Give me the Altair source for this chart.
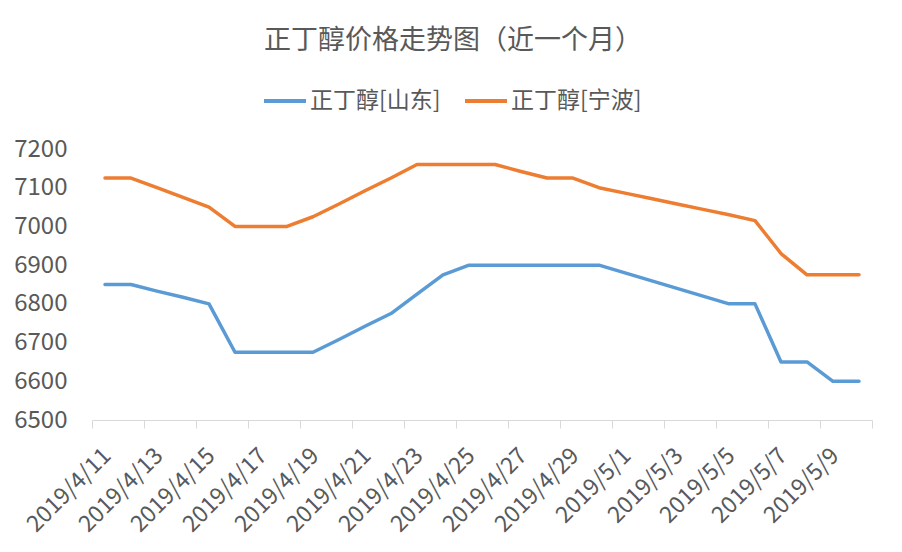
import json
import altair as alt
import pandas as pd

FONT = "Noto Sans CJK SC"
TEXT = "#595959"

title = "正丁醇价格走势图（近一个月）"
series_names = ["正丁醇[山东]", "正丁醇[宁波]"]
colors = ["#5B9BD5", "#ED7D31"]

dates = [
    "2019/4/11", "2019/4/12", "2019/4/13", "2019/4/14", "2019/4/15",
    "2019/4/16", "2019/4/17", "2019/4/18", "2019/4/19", "2019/4/20",
    "2019/4/21", "2019/4/22", "2019/4/23", "2019/4/24", "2019/4/25",
    "2019/4/26", "2019/4/27", "2019/4/28", "2019/4/29", "2019/4/30",
    "2019/5/1", "2019/5/2", "2019/5/3", "2019/5/4", "2019/5/5",
    "2019/5/6", "2019/5/7", "2019/5/8", "2019/5/9", "2019/5/10",
]

shandong = [
    6850, 6850, 6833, 6817, 6800, 6675, 6675, 6675, 6675, 6708,
    6742, 6775, 6825, 6875, 6900, 6900, 6900, 6900, 6900, 6900,
    6880, 6860, 6840, 6820, 6800, 6800, 6650, 6650, 6600, 6600,
]

ningbo = [
    7125, 7125, 7100, 7075, 7050, 7000, 7000, 7000, 7025, 7058,
    7092, 7125, 7160, 7160, 7160, 7160, 7142, 7125, 7125, 7100,
    7086, 7072, 7058, 7044, 7030, 7015, 6930, 6875, 6875, 6875,
]

y_ticks = [6500, 6600, 6700, 6800, 6900, 7000, 7100, 7200]

rows = []
for name, vals in zip(series_names, [shandong, ningbo]):
    for i, (d, v) in enumerate(zip(dates, vals)):
        rows.append({"idx": i, "date": d, "series": name, "value": v})
df = pd.DataFrame(rows)

n = len(dates)
tick_vals = [k - 0.5 for k in range(0, n + 1, 2)]
label_expr = f"{json.dumps(dates)}[round(datum.value + 0.5)] || ''"

chart = (
    alt.Chart(df)
    .mark_line(strokeWidth=3.5, strokeCap="round", strokeJoin="round")
    .encode(
        x=alt.X(
            "idx:Q",
            title=None,
            scale=alt.Scale(domain=[-0.5, n - 0.5], nice=False, zero=False),
            axis=alt.Axis(
                values=tick_vals,
                labelExpr=label_expr,
                labelAngle=-45,
                labelOffset=7,
                labelFontSize=23,
                labelFont=FONT,
                labelColor=TEXT,
                labelPadding=16,
                labelFlush=False,
                labelOverlap=False,
                grid=False,
                domainColor="#D9D9D9",
                tickColor="#D9D9D9",
                tickSize=8,
            ),
        ),
        y=alt.Y(
            "value:Q",
            title=None,
            scale=alt.Scale(domain=[6500, 7200], nice=False, zero=False),
            axis=alt.Axis(
                values=y_ticks,
                format="d",
                grid=False,
                domain=False,
                ticks=False,
                tickSize=0,
                labelPadding=25,
                labelFontSize=24,
                labelFont=FONT,
                labelColor=TEXT,
                labelFlush=False,
                labelOverlap=False,
            ),
        ),
        color=alt.Color(
            "series:N",
            scale=alt.Scale(domain=series_names, range=colors),
            legend=alt.Legend(
                title=None,
                orient="none",
                legendX=170,
                legendY=-71,
                direction="horizontal",
                symbolType="stroke",
                symbolSize=1764,
                symbolStrokeWidth=4,
                labelFontSize=23,
                labelFont=FONT,
                labelColor=TEXT,
                labelOffset=2,
                columnPadding=16,
            ),
        ),
        order="idx:Q",
    )
    .properties(
        width=780,
        height=271,
        padding={"left": 84, "top": 141, "right": 20, "bottom": 124},
        autosize=alt.AutoSizeParams(type="none"),
        title=alt.TitleParams(
            text=title,
            fontSize=27,
            font=FONT,
            color=TEXT,
            fontWeight="normal",
            anchor="middle",
            dx=-29,
            offset=23,
        ),
    )
    .configure_view(stroke=None)
)

chart.save("out.html", embed_options={"renderer": "svg", "actions": False})
